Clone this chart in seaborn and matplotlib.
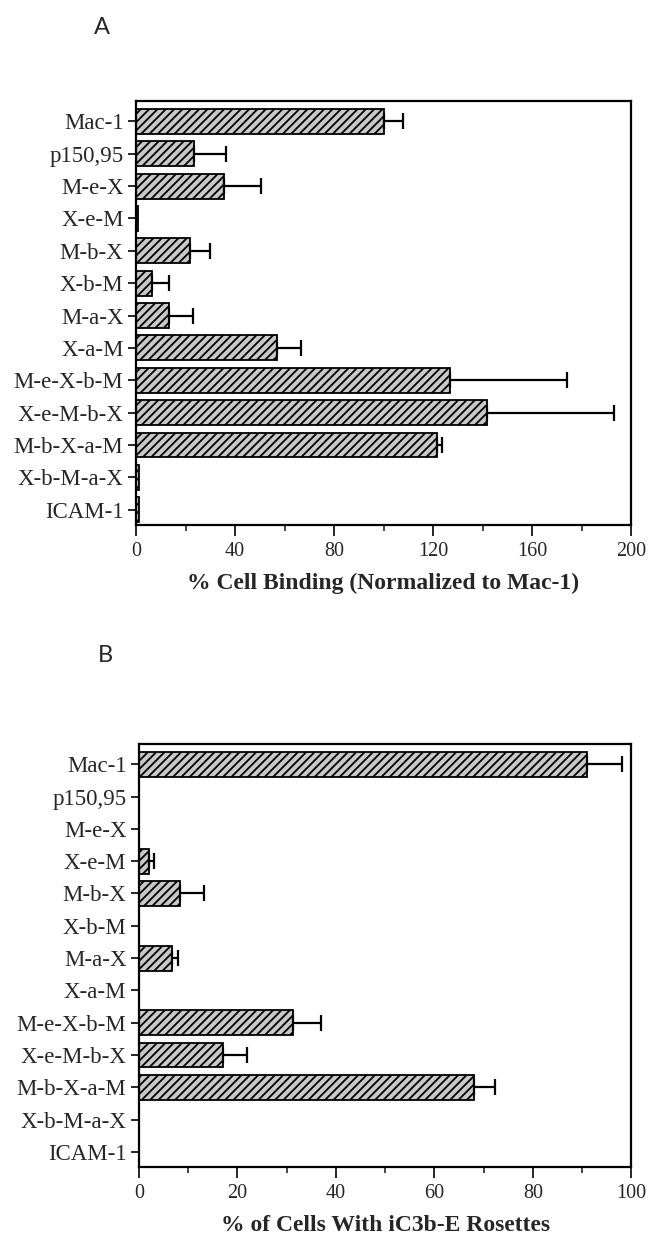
import numpy as np
import pandas as pd
import matplotlib
matplotlib.use("Agg")
import matplotlib.pyplot as plt
from matplotlib.ticker import MultipleLocator
import seaborn as sns

categories = ["Mac-1", "p150,95", "M-e-X", "X-e-M", "M-b-X", "X-b-M", "M-a-X",
              "X-a-M", "M-e-X-b-M", "X-e-M-b-X", "M-b-X-a-M", "X-b-M-a-X", "ICAM-1"]

binding_a = [100, 23.5, 35.7, 0.8, 21.8, 6.6, 13.4, 57, 127, 142, 121.7, 1.2, 1.2]
binding_a_err = [8, 13, 14.6, 0, 8, 6.8, 9.8, 9.7, 47, 51, 2, 0, 0]

rosette_b = [91, 0, 0, 2.0, 8.3, 0, 6.7, 0, 31.2, 17.0, 68, 0, 0]
rosette_b_err = [7, 0, 0, 1.1, 4.9, 0, 1.3, 0, 5.8, 5.0, 4.3, 0, 0]

xlabel_a = "% Cell Binding (Normalized to Mac-1)"
xlabel_b = "% of Cells With iC3b-E Rosettes"
xticks_a = [0, 40, 80, 120, 160, 200]
xticks_b = [0, 20, 40, 60, 80, 100]

sns.set_style("ticks")
plt.rcParams["font.family"] = ["Liberation Serif", "DejaVu Serif"]
plt.rcParams["hatch.color"] = "black"
plt.rcParams["hatch.linewidth"] = 1.3

fig = plt.figure(figsize=(6.58, 12.34), dpi=100)
ax_a = fig.add_axes([0.2067, 0.5746, 0.7523, 0.3436])
ax_b = fig.add_axes([0.2112, 0.0543, 0.7485, 0.3428])


def draw(ax, vals, errs, xticks, xlabel, minor):
    df = pd.DataFrame({"cat": categories, "val": vals})
    sns.barplot(data=df, x="val", y="cat", orient="h", ax=ax, errorbar=None,
                color="#c8c8c8", saturation=1, edgecolor="black", linewidth=1.3,
                hatch="////", width=0.77)
    ys, xs = [], []
    for p in ax.patches:
        ys.append(p.get_y() + p.get_height() / 2)
        xs.append(p.get_width())
    errs_arr = np.array(errs, dtype=float)
    mask = errs_arr > 0
    ax.errorbar(np.array(xs)[mask], np.array(ys)[mask],
                xerr=[np.zeros(mask.sum()), errs_arr[mask]],
                fmt="none", ecolor="black", elinewidth=1.6, capsize=5.5, capthick=1.6)
    ax.set_xlim(xticks[0], xticks[-1])
    ax.set_ylim(12.47, -0.63)
    ax.set_xticks(xticks)
    ax.xaxis.set_minor_locator(MultipleLocator(minor))
    ax.set_ylabel("")
    ax.set_xlabel(xlabel, fontsize=17, fontweight="bold", labelpad=9)
    for s in ax.spines.values():
        s.set_visible(True)
        s.set_linewidth(1.6)
        s.set_color("black")
    ax.tick_params(axis="x", which="major", length=8, width=1.4, labelsize=14.5, pad=4)
    ax.tick_params(axis="x", which="minor", length=4, width=1.2)
    ax.tick_params(axis="y", which="major", length=6, width=1.4, labelsize=16.5, pad=3)


draw(ax_a, binding_a, binding_a_err, xticks_a, xlabel_a, 20)
draw(ax_b, rosette_b, rosette_b_err, xticks_b, xlabel_b, 10)

fig.text(102 / 658, 1 - 27 / 1234, "A", family=["Lato", "DejaVu Sans"], fontsize=17,
         ha="center", va="center")
fig.text(105 / 658, 1 - 656 / 1234, "B", family=["Lato", "DejaVu Sans"], fontsize=17,
         ha="center", va="center")

fig.savefig("out.png", dpi=100, facecolor="white")
